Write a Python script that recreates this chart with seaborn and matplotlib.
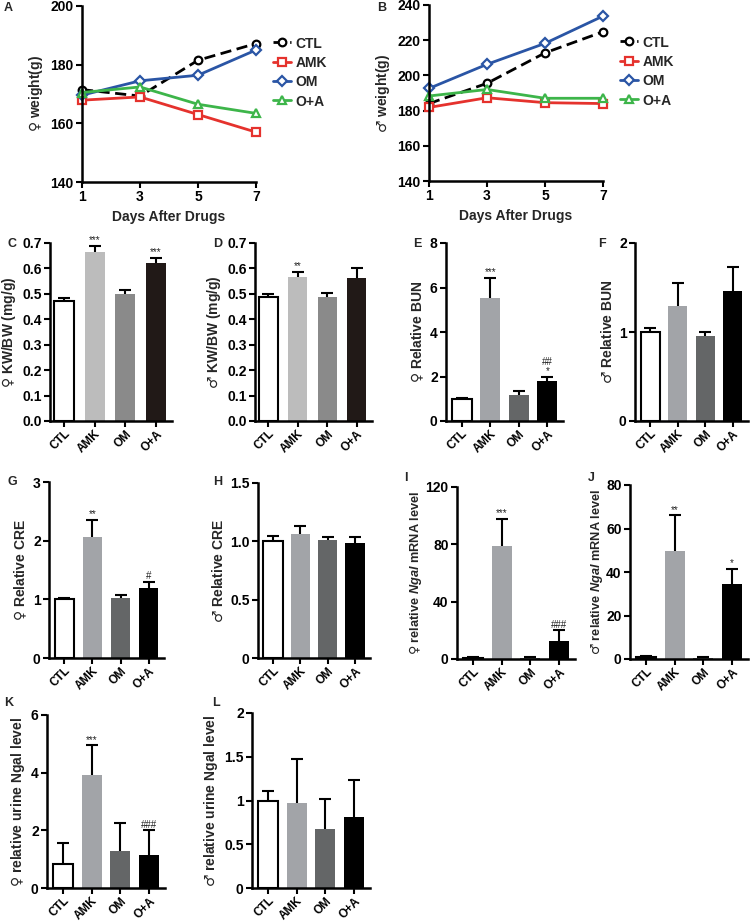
import numpy as np
import pandas as pd
import matplotlib
matplotlib.use("Agg")
import matplotlib.pyplot as plt
import seaborn as sns

sns.set_theme(style="ticks")
plt.rcParams['font.family'] = ['Liberation Sans', 'DejaVu Sans']
plt.rcParams['font.weight'] = 'bold'
plt.rcParams['axes.labelweight'] = 'bold'
plt.rcParams['mathtext.fontset'] = 'custom'
plt.rcParams['mathtext.it'] = 'Liberation Sans:italic:bold'
plt.rcParams['mathtext.rm'] = 'Liberation Sans:bold'
plt.rcParams['mathtext.bf'] = 'Liberation Sans:bold'
plt.rcParams['mathtext.sf'] = 'DejaVu Sans'

# ---------------- data ----------------
days = [1, 3, 5, 7]
groups = ["CTL", "AMK", "OM", "O+A"]

# Panel A (female weight)
a_ctl = [171.5, 169.3, 181.5, 187.2]
a_amk = [167.9, 169.0, 163.0, 157.0]
a_om = [169.6, 174.5, 176.4, 185.0]
a_oa = [170.5, 172.4, 166.5, 163.4]
# Panel B (male weight)
b_ctl = [184.0, 195.5, 212.8, 224.8]
b_amk = [181.8, 187.3, 184.5, 184.0]
b_om = [192.6, 206.3, 218.2, 233.7]
b_oa = [188.3, 192.0, 187.0, 187.0]

# Bar panels: mean, upper error (SEM)
c_mean = [0.470, 0.665, 0.498, 0.622]
c_err = [0.012, 0.025, 0.018, 0.020]
d_mean = [0.487, 0.565, 0.488, 0.563]
d_err = [0.013, 0.020, 0.015, 0.040]
e_mean = [1.00, 5.52, 1.15, 1.78]
e_err = [0.05, 0.90, 0.20, 0.22]
f_mean = [1.00, 1.29, 0.96, 1.46]
f_err = [0.05, 0.26, 0.04, 0.27]
g_mean = [1.00, 2.06, 1.02, 1.20]
g_err = [0.03, 0.29, 0.05, 0.10]
h_mean = [1.00, 1.06, 1.01, 0.99]
h_err = [0.05, 0.07, 0.03, 0.05]
i_mean = [0.8, 79.0, 0.8, 12.5]
i_err = [0.4, 19.0, 0.6, 7.5]
j_mean = [0.9, 49.5, 0.6, 34.5]
j_err = [0.3, 16.5, 0.3, 6.8]
k_mean = [0.83, 3.93, 1.30, 1.13]
k_err = [0.72, 1.02, 0.95, 0.87]
l_mean = [1.00, 0.97, 0.68, 0.81]
l_err = [0.11, 0.50, 0.34, 0.43]

c_marks = ["", "***", "", "***"]
d_marks = ["", "**", "", ""]
e_marks = ["", "***", "", "##\n*"]
f_marks = ["", "", "", ""]
g_marks = ["", "**", "", "#"]
h_marks = ["", "", "", ""]
i_marks = ["", "***", "", "###"]
j_marks = ["", "**", "", "*"]
k_marks = ["", "***", "", "###"]
l_marks = ["", "", "", ""]

pal_cd = ["#ffffff", "#bcbcbc", "#8a8a8a", "#231815"]
pal_rest = ["#ffffff", "#a1a4a9", "#636668", "#000000"]

FEM = "$\\mathsf{♀}$"
MAL = "$\\mathsf{♂}$"

W, H = 750, 923
fig = plt.figure(figsize=(W / 100, H / 100), dpi=100)


def box(x0, x1, y0, y1):
    return [x0 / W, 1 - y1 / H, (x1 - x0) / W, (y1 - y0) / H]


def style_axes(ax):
    sns.despine(ax=ax)
    for s in ["left", "bottom"]:
        ax.spines[s].set_linewidth(1.8)
        ax.spines[s].set_color("black")
    ax.tick_params(axis="both", direction="out", length=4, width=1.5,
                   colors="black", labelsize=10, pad=2)
    for lab in ax.get_xticklabels() + ax.get_yticklabels():
        lab.set_fontweight("bold")


# ---------------- line panels ----------------
line_specs = [
    ("CTL", "black", "o", (0, (4, 2))),
    ("AMK", "#e5322d", "s", "-"),
    ("OM", "#2a55a5", "D", "-"),
    ("O+A", "#3db54a", "^", "-"),
]


def line_panel(rect, series, ylim, yticks, ylabel, letter, letter_xy):
    ax = fig.add_axes(box(*rect))
    for (name, col, mk, ls), vals in zip(line_specs, series):
        df = pd.DataFrame({"day": days, "w": vals})
        sns.lineplot(data=df, x="day", y="w", ax=ax, color=col, marker=mk,
                     linestyle=ls, linewidth=2, markersize=5.5 if mk != "D" else 5,
                     markerfacecolor="white", markeredgecolor=col,
                     markeredgewidth=1.6, label=name, clip_on=False)
    ax.set_xlim(1, 7)
    ax.set_ylim(*ylim)
    ax.set_xticks(days)
    ax.set_yticks(yticks)
    ax.set_xlabel("Days After Drugs", fontsize=10, fontweight="bold", labelpad=4)
    ax.set_ylabel(ylabel, fontsize=10, fontweight="bold", labelpad=4)
    style_axes(ax)
    leg = ax.legend(loc="upper left", bbox_to_anchor=(1.06, 0.86), frameon=False,
                    handlelength=1.2, handletextpad=0.3, labelspacing=0.35,
                    borderaxespad=0)
    for t in leg.get_texts():
        t.set_fontweight("bold")
        t.set_fontsize(10)
    fig.text(letter_xy[0] / W, 1 - letter_xy[1] / H, letter, fontsize=9,
             fontweight="bold", ha="left", va="center")
    return ax


line_panel((82, 256, 6, 182), [a_ctl, a_amk, a_om, a_oa], (140, 200),
           [140, 160, 180, 200], FEM + " weight(g)", "A", (4, 8))
line_panel((429, 603, 5, 181), [b_ctl, b_amk, b_om, b_oa], (140, 240),
           [140, 160, 180, 200, 220, 240], MAL + " weight(g)", "B", (377, 8))


# ---------------- bar panels ----------------
def bar_panel(rect, means, errs, marks, pal, ylim, yticks, yticklabels, ylabel,
              letter, letter_xy, width=0.7, xlim=(-0.55, 3.55), labelpad=3,
              labelsize=10):
    ax = fig.add_axes(box(*rect))
    df = pd.DataFrame({"g": groups, "v": means})
    sns.barplot(data=df, x="g", y="v", hue="g", palette=pal, legend=False,
                errorbar=None, width=width, ax=ax, edgecolor="none", linewidth=0)
    # outline for the white CTL bar
    ax.patches[0].set_edgecolor("black")
    ax.patches[0].set_linewidth(1.5)
    xs = np.arange(len(groups))
    _, caps, _ = ax.errorbar(xs, means, yerr=[np.zeros(len(means)), errs],
                             fmt="none", ecolor="black", elinewidth=1.5,
                             capsize=4.5, capthick=1.5, zorder=5)
    caps[0].set_visible(False)
    for x, m, e, s in zip(xs, means, errs, marks):
        if s:
            ax.annotate(s, (x, m + e), xytext=(0, 0.5), textcoords="offset points",
                        ha="center", va="bottom", fontsize=7, fontweight="normal",
                        linespacing=0.9, color="#222222")
    ax.set_xlim(*xlim)
    ax.set_ylim(*ylim)
    ax.set_yticks(yticks)
    ax.set_yticklabels(yticklabels)
    ax.set_xlabel("")
    ax.set_ylabel(ylabel, fontsize=labelsize, fontweight="bold", labelpad=labelpad)
    style_axes(ax)
    ax.tick_params(axis="x", labelsize=8.5, pad=1)
    for lab in ax.get_xticklabels():
        lab.set_rotation(45)
        lab.set_ha("right")
        lab.set_va("top")
        lab.set_rotation_mode("anchor")
    fig.text(letter_xy[0] / W, 1 - letter_xy[1] / H, letter, fontsize=9,
             fontweight="bold", ha="left", va="center")
    return ax


c_ticks = [0.0, 0.1, 0.2, 0.3, 0.4, 0.5, 0.6, 0.7]
c_lbls = ["0.0", "0.1", "0.2", "0.3", "0.4", "0.5", "0.6", "0.7"]

bar_panel((50, 172, 243, 421), c_mean, c_err, c_marks, pal_cd, (0, 0.7), c_ticks,
          c_lbls, FEM + " KW/BW (mg/g)", "C", (7, 244), width=0.65, xlim=(-0.45, 3.52))
bar_panel((255, 372, 243, 421), d_mean, d_err, d_marks, pal_cd, (0, 0.7), c_ticks,
          c_lbls, MAL + " KW/BW (mg/g)", "D", (213, 244), width=0.65, xlim=(-0.45, 3.52))
bar_panel((446, 563, 243, 421), e_mean, e_err, e_marks, pal_rest, (0, 8),
          [0, 2, 4, 6, 8], ["0", "2", "4", "6", "8"], FEM + " Relative BUN", "E",
          (413, 244))
bar_panel((635, 748, 243, 421), f_mean, f_err, f_marks, pal_rest, (0, 2),
          [0, 1, 2], ["0", "1", "2"], MAL + " Relative BUN", "F", (598, 244))
bar_panel((49, 164, 482, 658), g_mean, g_err, g_marks, pal_rest, (0, 3),
          [0, 1, 2, 3], ["0", "1", "2", "3"], FEM + " Relative CRE", "G", (7, 482))
bar_panel((258, 370, 483, 658), h_mean, h_err, h_marks, pal_rest, (0, 1.5),
          [0, 0.5, 1.0, 1.5], ["0", "0.5", "1.0", "1.5"], MAL + " Relative CRE", "H",
          (213, 482))
bar_panel((457, 575, 487, 659), i_mean, i_err, i_marks, pal_rest, (0, 120),
          [0, 40, 80, 120], ["0", "40", "80", "120"],
          FEM + " relative $\\mathit{Ngal}$ mRNA level", "I", (404, 478), labelpad=1,
          labelsize=9.2)
bar_panel((630, 748, 485, 659), j_mean, j_err, j_marks, pal_rest, (0, 80),
          [0, 20, 40, 60, 80], ["0", "20", "40", "60", "80"],
          MAL + " relative $\\mathit{Ngal}$ mRNA level", "J", (588, 478), labelpad=1,
          labelsize=9.2)
bar_panel((47, 165, 715, 888), k_mean, k_err, k_marks, pal_rest, (0, 6),
          [0, 2, 4, 6], ["0", "2", "4", "6"], FEM + " relative urine Ngal level", "K",
          (4, 703))
bar_panel((252, 370, 713, 888), l_mean, l_err, l_marks, pal_rest, (0, 2),
          [0, 0.5, 1, 1.5, 2], ["0", "0.5", "1", "1.5", "2"],
          MAL + " relative urine Ngal level", "L", (212, 703))

fig.savefig("out.png", dpi=100)
